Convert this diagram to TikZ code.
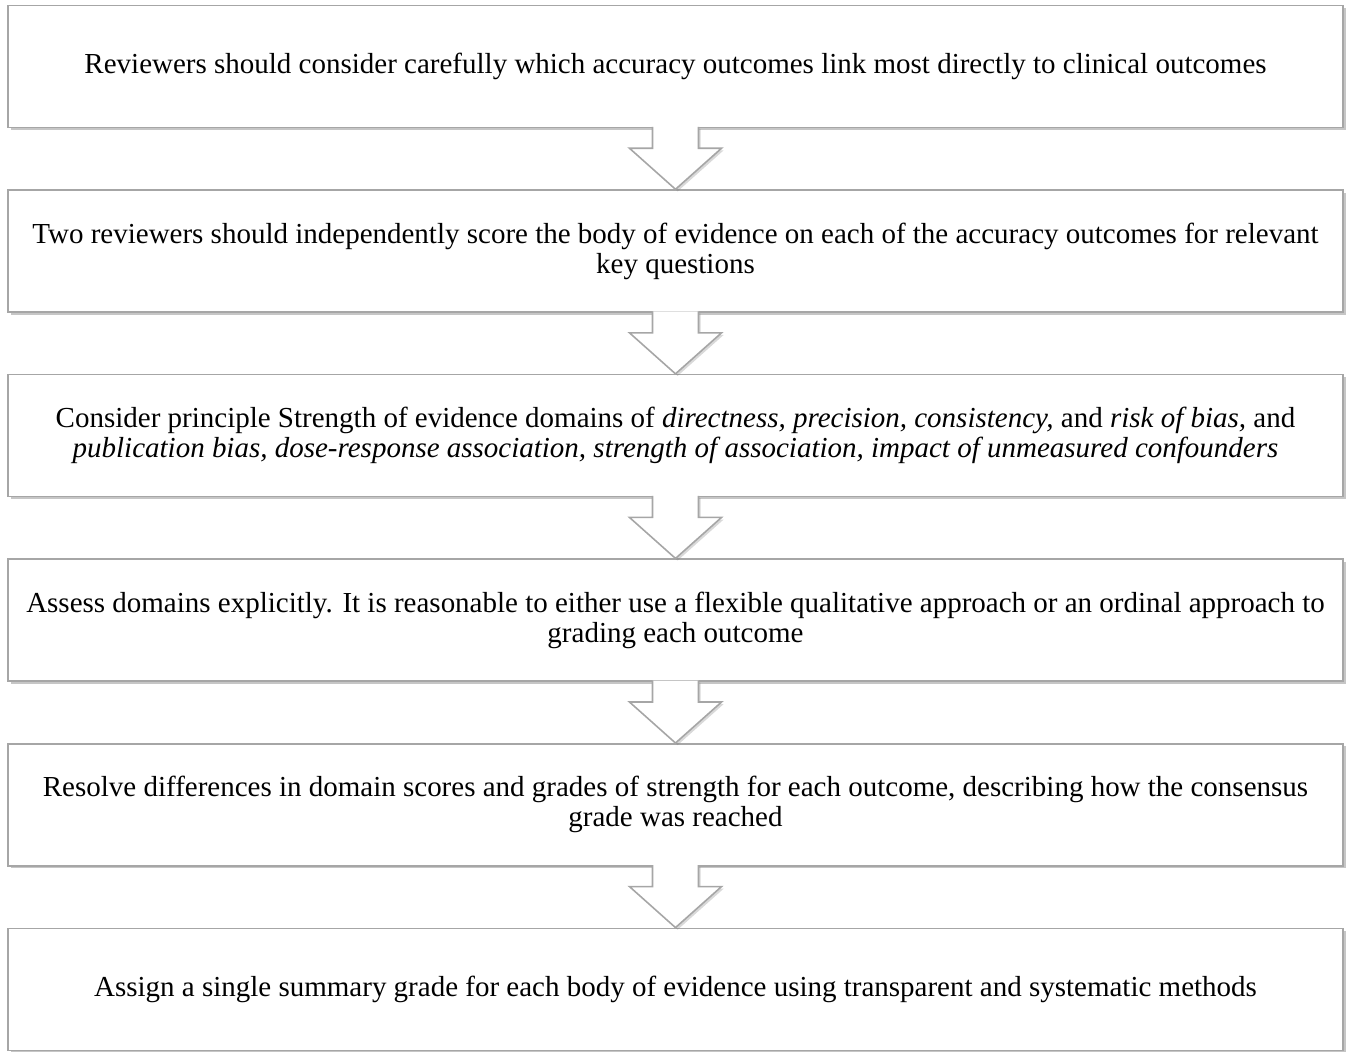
\documentclass[tikz,border=0pt]{standalone}
\usepackage{fontspec}
\setmainfont{Liberation Serif}
\usetikzlibrary{positioning,calc,shadows}

\begin{document}
\begin{tikzpicture}[
        node distance=1.22cm,
        block/.style={rectangle, draw=gray!70, line width=0.9pt, fill=white,
            minimum width=26.7cm, minimum height=2.44cm, align=center,
            font=\fontsize{16.5}{17}\selectfont,
            drop shadow={shadow xshift=1.5pt, shadow yshift=-1.5pt, opacity=0.45}},
        bigarrow/.style={draw=gray!70, line width=0.9pt, fill=white, line join=miter,
            drop shadow={shadow xshift=1.2pt, shadow yshift=-1.2pt, opacity=0.3}}
    ]
        \useasboundingbox (0,0) rectangle (26.92,21.04);

        % First step
        \node[block] (review) at (13.51,19.71)
            {Reviewers should consider carefully which accuracy outcomes link most directly to clinical outcomes};

        % Scoring by two reviewers
        \node[block, below=of review] (score)
            {Two reviewers should independently score the body of evidence on each of the accuracy outcomes for relevant\\
            key questions};

        % Domains
        \node[block, below=of score] (domains)
            {Consider principle Strength of evidence domains of \textit{directness, precision, consistency,} and \textit{risk of bias,} and\\
            \textit{publication bias, dose-response association, strength of association, impact of unmeasured confounders}};

        % Assessment
        \node[block, below=of domains] (assess)
            {Assess domains explicitly. It is reasonable to either use a flexible qualitative approach or an ordinal approach to\\
            grading each outcome};

        % Consensus
        \node[block, below=of assess] (resolve)
            {Resolve differences in domain scores and grades of strength for each outcome, describing how the consensus\\
            grade was reached};

        % Final grade
        \node[block, below=of resolve] (assign)
            {Assign a single summary grade for each body of evidence using transparent and systematic methods};

        % Block arrows between the steps
        \foreach \a/\b in {review/score, score/domains, domains/assess, assess/resolve, resolve/assign}
            \draw[bigarrow] ($(\a.south)+(-0.46,0.03)$) -- ($(\a.south)+(-0.46,-0.4)$)
                -- ($(\a.south)+(-0.92,-0.4)$) -- (\b.north)
                -- ($(\a.south)+(0.92,-0.4)$) -- ($(\a.south)+(0.46,-0.4)$)
                -- ($(\a.south)+(0.46,0.03)$);
    \end{tikzpicture}
\end{document}
